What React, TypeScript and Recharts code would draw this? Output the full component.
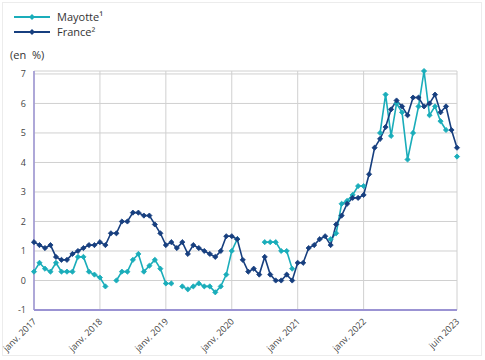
import React from "react";
import {
  LineChart,
  Line,
  XAxis,
  YAxis,
  CartesianGrid,
} from "recharts";

// Monthly year-on-year change, janv. 2017 -> juin 2023
const france = [
  1.3, 1.2, 1.1, 1.2, 0.8, 0.7, 0.7, 0.9, 1.0, 1.1, 1.2, 1.2,
  1.3, 1.2, 1.6, 1.6, 2.0, 2.0, 2.3, 2.3, 2.2, 2.2, 1.9, 1.6,
  1.2, 1.3, 1.1, 1.3, 0.9, 1.2, 1.1, 1.0, 0.9, 0.8, 1.0, 1.5,
  1.5, 1.4, 0.7, 0.3, 0.4, 0.2, 0.8, 0.2, 0.0, 0.0, 0.2, 0.0,
  0.6, 0.6, 1.1, 1.2, 1.4, 1.5, 1.2, 1.9, 2.2, 2.6, 2.8, 2.8,
  2.9, 3.6, 4.5, 4.8, 5.2, 5.8, 6.1, 5.9, 5.6, 6.2, 6.2, 5.9,
  6.0, 6.3, 5.7, 5.9, 5.1, 4.5,
];

const mayotte = [
  0.3, 0.6, 0.4, 0.3, 0.6, 0.3, 0.3, 0.3, 0.8, 0.8, 0.3, 0.2,
  0.1, -0.2, null, 0.0, 0.3, 0.3, 0.7, 0.9, 0.3, 0.5, 0.7, 0.4,
  -0.1, -0.1, null, -0.2, -0.3, -0.2, -0.1, -0.2, -0.2, -0.4, -0.2, 0.2,
  1.0, 1.4, null, null, null, null, 1.3, 1.3, 1.3, 1.0, 1.0, 0.4,
  null, null, null, null, null, null, 1.4, 1.6, 2.6, 2.7, 2.9, 3.2,
  3.2, null, null, 5.0, 6.3, 4.9, 6.0, 5.7, 4.1, 5.0, 5.9, 7.1,
  5.6, 5.9, 5.4, 5.1, null, 4.2,
];

const xTicks = [0, 12, 24, 36, 48, 60, 77];
const xTickLabels = [
  "janv. 2017",
  "janv. 2018",
  "janv. 2019",
  "janv. 2020",
  "janv. 2021",
  "janv. 2022",
  "juin 2023",
];
const yTicks = [-1, 0, 1, 2, 3, 4, 5, 6, 7];

const TEAL = "#1aadba";
const NAVY = "#173f7f";
const AXIS = "#9b93d3";
const FONT = "'Open Sans', 'DejaVu Sans', sans-serif";

const data = france.map((v, i) => ({
  i,
  france: v,
  mayotte: mayotte[i],
}));

function diamondDot(color: string) {
  return (props: any) => {
    const { cx, cy, value, index } = props;
    if (value == null || cx == null || cy == null) return <g key={`n-${index}`} />;
    const s = 2.6;
    return (
      <path
        key={`d-${index}`}
        d={`M${cx},${cy - s} L${cx + s},${cy} L${cx},${cy + s} L${cx - s},${cy} Z`}
        fill={color}
        stroke={color}
        strokeWidth={0.8}
      />
    );
  };
}

function XTick(props: any) {
  const { x, y, payload } = props;
  const idx = xTicks.indexOf(payload.value);
  return (
    <text
      x={x + 3}
      y={y + 4}
      transform={`rotate(-45 ${x + 3} ${y + 4})`}
      textAnchor="end"
      fontSize={9}
      fill="#444"
      fontFamily={FONT}
    >
      {xTickLabels[idx]}
    </text>
  );
}

function LegendBox() {
  const items = [
    { name: "Mayotte\u00b9", color: TEAL },
    { name: "France\u00b2", color: NAVY },
  ];
  return (
    <div style={{ fontFamily: FONT, fontSize: 11, color: "#333" }}>
      {items.map((it) => (
        <div
          key={it.name}
          style={{ display: "flex", alignItems: "center", height: 15 }}
        >
          <svg width={40} height={10}>
            <line x1={2} y1={5} x2={38} y2={5} stroke={it.color} strokeWidth={2} />
            <path d="M20,2 L23,5 L20,8 L17,5 Z" fill={it.color} />
          </svg>
          <span style={{ marginLeft: 5 }}>{it.name}</span>
        </div>
      ))}
    </div>
  );
}

export default function App() {
  return (
    <div
      style={{
        position: "absolute",
        left: 0,
        top: 0,
        width: 485,
        height: 360,
        background: "#fff",
      }}
    >
      <div
        style={{
          position: "absolute",
          left: 2,
          top: 2,
          width: 478,
          height: 352,
          border: "1px solid #ececec",
        }}
      />
      <div style={{ position: "absolute", left: 12, top: 9 }}>
        <LegendBox />
      </div>
      <div
        style={{
          position: "absolute",
          left: 10,
          top: 47,
          fontFamily: FONT,
          fontSize: 11,
          color: "#333",
          whiteSpace: "pre",
        }}
      >
        {"(en  %)"}
      </div>
      <LineChart
        width={485}
        height={360}
        data={data}
        margin={{ top: 71, right: 28, bottom: 0, left: 0 }}
        style={{ position: "absolute", left: 0, top: 0 }}
      >
        <CartesianGrid stroke="#d0d0d0" strokeWidth={1} />
        <XAxis
          dataKey="i"
          type="number"
          domain={[0, 77]}
          ticks={xTicks}
          interval={0}
          height={50}
          axisLine={{ stroke: AXIS, strokeWidth: 2 }}
          tickLine={false}
          tick={<XTick />}
        />
        <YAxis
          type="number"
          domain={[-1, 7]}
          ticks={yTicks}
          interval={0}
          width={34}
          axisLine={{ stroke: AXIS, strokeWidth: 1.5 }}
          tickLine={false}
          tick={{ fontSize: 9, fill: "#444", fontFamily: FONT }}
        />
        <Line
          type="linear"
          dataKey="mayotte"
          name="Mayotte"
          stroke={TEAL}
          strokeWidth={1.6}
          dot={diamondDot(TEAL)}
          activeDot={false}
          isAnimationActive={false}
        />
        <Line
          type="linear"
          dataKey="france"
          name="France"
          stroke={NAVY}
          strokeWidth={1.6}
          dot={diamondDot(NAVY)}
          activeDot={false}
          isAnimationActive={false}
        />
      </LineChart>
    </div>
  );
}
